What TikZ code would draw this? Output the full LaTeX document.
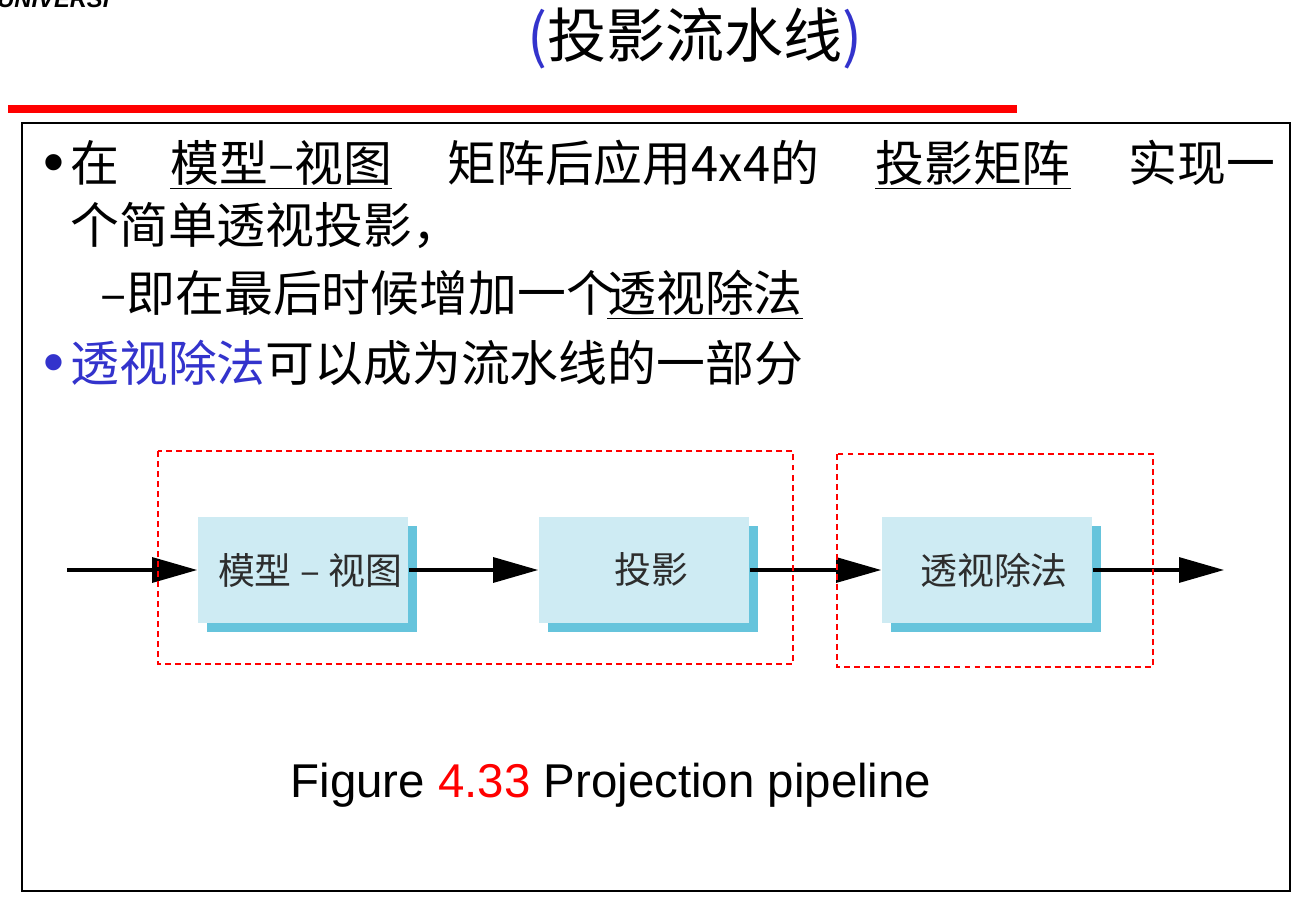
\documentclass[tikz,border=0pt]{standalone}
\usepackage{fontspec}
\setmainfont{Noto Sans CJK SC}
\newfontfamily\capfont{Liberation Sans}
\usetikzlibrary{arrows.meta, shadows, positioning}
\definecolor{titleblue}{RGB}{51,51,204}
\definecolor{boxfill}{RGB}{206,235,243}
\definecolor{boxshade}{RGB}{102,196,220}
\definecolor{labelgray}{RGB}{45,45,45}
\tikzset{
	line/.style={anchor=base west, inner sep=0pt, font=\fontsize{27.8}{30}\selectfont},
	dot/.style={anchor=base west, inner sep=0pt, font=\capfont\fontsize{34}{36}\selectfont},
	stage/.style={fill=boxfill, minimum width=4.22cm, minimum height=2.12cm, inner sep=0pt,
		text=labelgray, font=\fontsize{21}{23}\selectfont,
		execute at begin node={\hspace*{0.28cm}},
		drop shadow={shadow xshift=0.18cm, shadow yshift=-0.18cm, fill=boxshade, opacity=1}},
	group/.style={draw=red, line width=0.85pt, dash pattern=on 3.4pt off 2.3pt},
	flow/.style={line width=1.8pt, -{Triangle[length=0.9cm, width=0.5cm]}}
}

\begin{document}
\begin{tikzpicture}[x=0.02cm, y=-0.02cm]
	\useasboundingbox (0,0) rectangle (1304,898);
	
	% --- Header ---
	\node[anchor=base west, inner sep=0pt, font=\capfont\bfseries\itshape\fontsize{13.5}{15}\selectfont] (logo) at (-3,8) {UNIVERSI};
	\node[anchor=base, inner sep=0pt, font=\fontsize{33.6}{36}\selectfont] (title) at (695,58) {\textcolor{titleblue}{(}投影流水线\textcolor{titleblue}{)}};
	\fill[red] (8,105) rectangle (1017,113);
	\draw[line width=1pt] (22,123) rectangle (1290,891);
	
	% --- Bullets ---
	\node[dot] (b1) at (43,183) {•};
	\node[line] (t1a) at (70,182) {在};
	\node[line] (t1b) at (170,182) {\underline{模型–视图}};
	\node[line] (t1c) at (447,182) {矩阵后应用4x4的};
	\node[line] (t1d) at (875,182) {\underline{投影矩阵}};
	\node[line] (t1e) at (1128,182) {实现一};
	\node[line] (t2) at (70,244) {个简单透视投影，};
	\node[line] (t3a) at (100,312) {–即在最后时候增加一个};
	\node[line] (t3b) at (607,312) {\underline{透视除法}};
	\node[dot, text=titleblue] (b4) at (43,382) {•};
	\node[line] (t4) at (70,381) {\textcolor{titleblue}{透视除法}可以成为流水线的一部分};
	
	% --- Pipeline ---
	\node[stage] (mv) at (303,570) {模型 – 视图};
	\node[stage] (proj) at (644,570) {投影};
	\node[stage] (pdiv) at (987,570) {透视除法};
	\coordinate (src) at (67,570);
	\coordinate (dst) at (1224,570);
	
	\draw[flow] (src) -- (mv);
	\draw[flow] (mv) -- (proj);
	\draw[flow] (proj) -- (pdiv);
	\draw[flow] (pdiv) -- (dst);
	
	% groups
	\draw[group] (158,451) rectangle (793,664);
	\draw[group] (837,454) rectangle (1153,667);
	
	\node[anchor=base, inner sep=0pt, font=\capfont\fontsize{27}{30}\selectfont] (cap) at (611,797) {Figure \textcolor{red}{4.33} Projection pipeline};
\end{tikzpicture}
\end{document}
